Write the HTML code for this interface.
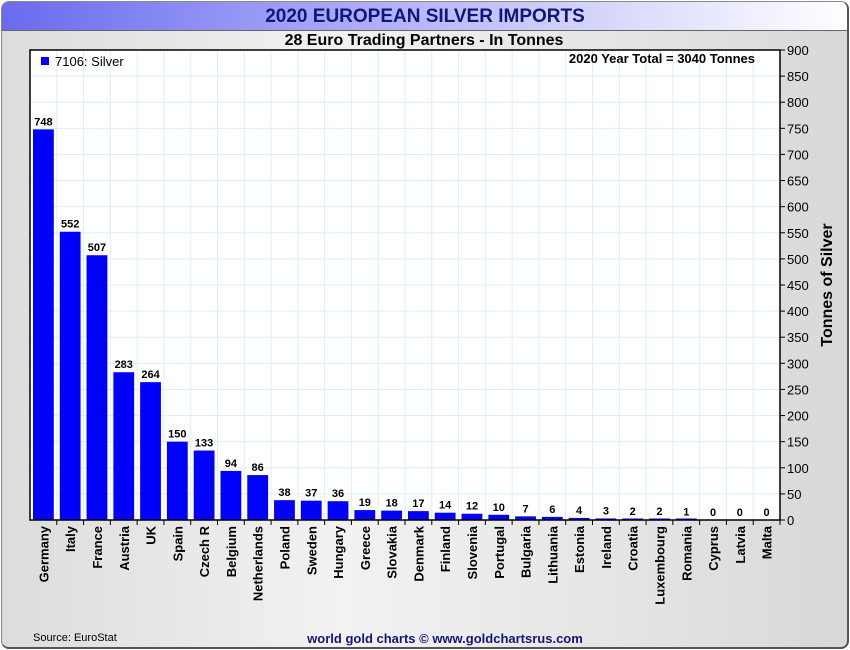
<!DOCTYPE html>
<html><head><meta charset="utf-8"><style>
html,body{margin:0;padding:0;background:#fff;}
body{width:850px;height:650px;position:relative;overflow:hidden;font-family:"Liberation Sans",sans-serif;}
#frame{position:absolute;left:1px;top:1px;width:845px;height:645px;border:1px solid #888;border-right:2px solid #555;border-bottom:2px solid #555;border-radius:8px;background:linear-gradient(90deg,#dcdcdc,#f2f2f2 40%,#e6e6e6 70%,#d8d8d8);overflow:hidden;}
#hdr{position:absolute;left:0;top:0;width:100%;height:28px;background:linear-gradient(90deg,#6a6aee,#b8b8fa 50%,#ffffff);border-bottom:1px solid #666;}
</style></head><body>
<div id="frame">
<div id="hdr"></div>
</div>
<svg id="chart" width="850" height="650" style="position:absolute;left:0;top:0">
<text x="425" y="22" text-anchor="middle" font-size="19" font-weight="bold" fill="#14147a">2020 EUROPEAN SILVER IMPORTS</text>
<text x="424" y="45" text-anchor="middle" font-size="16" font-weight="bold" fill="#000">28 Euro Trading Partners - In Tonnes</text>
<rect x="30" y="50" width="750" height="470" fill="#fff"/>
<g id="grid"></g><g id="bars"></g><g id="axes"></g>
<rect x="30" y="50" width="750" height="470" fill="none" stroke="#000" stroke-width="1.5"/>
<rect x="41" y="57" width="8" height="8" fill="#0000ff"/>
<text x="55" y="66" font-size="13" fill="#000">7106: Silver</text>
<text x="755" y="63" text-anchor="end" font-size="13" font-weight="bold" fill="#000">2020 Year Total = 3040 Tonnes</text>
<text transform="translate(832,285) rotate(-90)" text-anchor="middle" font-size="16" font-weight="bold" fill="#000">Tonnes of Silver</text>
<text x="33" y="641" font-size="11" fill="#000">Source: EuroStat</text>
<text x="445" y="643" text-anchor="middle" font-size="13" font-weight="bold" fill="#14147a">world gold charts © www.goldchartsrus.com</text>
</svg>
<script>
const categories=["Germany","Italy","France","Austria","UK","Spain","Czech R","Belgium","Netherlands","Poland","Sweden","Hungary","Greece","Slovakia","Denmark","Finland","Slovenia","Portugal","Bulgaria","Lithuania","Estonia","Ireland","Croatia","Luxembourg","Romania","Cyprus","Latvia","Malta"];
const values=[748,552,507,283,264,150,133,94,86,38,37,36,19,18,17,14,12,10,7,6,4,3,2,2,1,0,0,0];
const yTicks=[0,50,100,150,200,250,300,350,400,450,500,550,600,650,700,750,800,850,900];
const NS="http://www.w3.org/2000/svg";
const L=30,R=780,T=50,B=520,YMAX=900;
const bw=(R-L)/categories.length;
const y=v=>B-(v/YMAX)*(B-T);
const x=i=>L+i*bw;
function mk(tag,a,p){const e=document.createElementNS(NS,tag);for(const k in a)e.setAttribute(k,a[k]);p.appendChild(e);return e;}
const grid=document.getElementById('grid'),bars=document.getElementById('bars'),axes=document.getElementById('axes');
yTicks.forEach(t=>{
 const g=mk('line',{x1:L,x2:R,y1:y(t),y2:y(t),stroke:'#ddeeff','stroke-width':1},grid);
 
 
 const tk=mk('line',{x1:R,x2:R+5,y1:y(t),y2:y(t),stroke:'#000'},axes);
 
 
 const tl=mk('text',{x:R+7,y:y(t)+5,'font-size':13,fill:'#000'},axes);
 tl.textContent=t;
 
 
});
categories.forEach((c,i)=>{
 const g=mk('line',{x1:x(i+1),x2:x(i+1),y1:T,y2:B,stroke:'#ddeeff'},grid);
 
 
 const tk=mk('line',{x1:x(i+1),x2:x(i+1),y1:B,y2:B+5,stroke:'#000'},axes);
 
 
 const h=Math.max(B-y(values[i]),values[i]>0?1.5:0);
 const r=mk('rect',{x:x(i)+3,y:B-h,width:bw-6,height:h,fill:'#0000ff'},bars);
 
 
 const vl=mk('text',{x:x(i)+bw/2,y:y(values[i])-4,'text-anchor':'middle','font-size':11,'font-weight':'bold',fill:'#000'},bars);
 vl.textContent=values[i];
 
 
 const cl=mk('text',{transform:`translate(${x(i)+bw/2+5},${B+6}) rotate(-90)`,'text-anchor':'end','font-size':13,'font-weight':'bold',fill:'#000'},axes);
 cl.textContent=c;
 
 
});
</script>
</body></html>
